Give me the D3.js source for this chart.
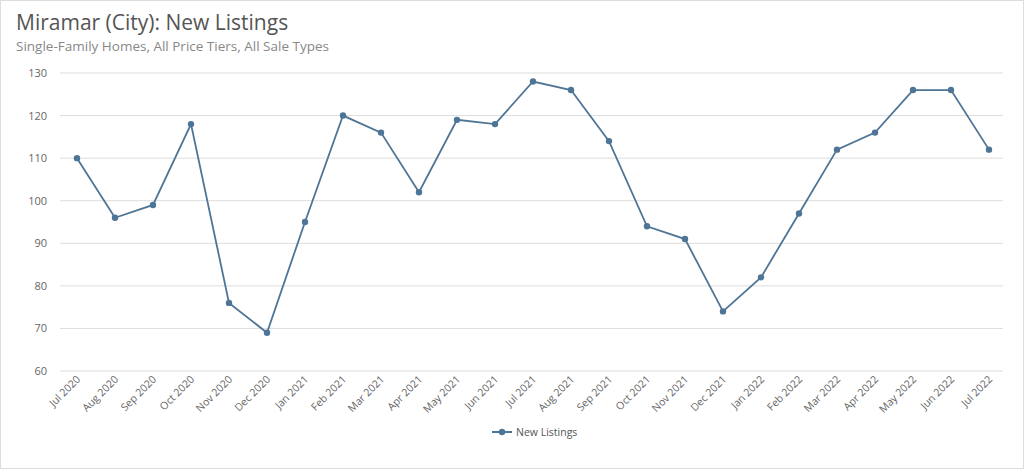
<!DOCTYPE html><html><head><meta charset="utf-8"><script src="https://cdn.jsdelivr.net/npm/d3@7"></script>
<style>body{margin:0;background:#fff}svg{font-family:"Open Sans",sans-serif}</style></head><body><svg id="c" width="1024" height="469"></svg>
<script>
const months=["Jul 2020","Aug 2020","Sep 2020","Oct 2020","Nov 2020","Dec 2020","Jan 2021","Feb 2021","Mar 2021","Apr 2021","May 2021","Jun 2021","Jul 2021","Aug 2021","Sep 2021","Oct 2021","Nov 2021","Dec 2021","Jan 2022","Feb 2022","Mar 2022","Apr 2022","May 2022","Jun 2022","Jul 2022"];
const listings=[110,96,99,118,76,69,95,120,116,102,119,118,128,126,114,94,91,74,82,97,112,116,126,126,112];
const yTicks=[60,70,80,90,100,110,120,130];
const color="#4e7596";
const svg=d3.select("#c");
svg.append("rect").attr("x",0.5).attr("y",0.5).attr("width",1023).attr("height",468).attr("fill","none").attr("stroke","#ddd");
svg.append("text").attr("x",16).attr("y",30).attr("font-size",21).attr("fill","#555").text("Miramar (City): New Listings");
svg.append("text").attr("x",16).attr("y",51).attr("font-size",13.5).attr("fill","#888").text("Single-Family Homes, All Price Tiers, All Sale Types");
const x=d3.scalePoint().domain(months).range([77,989]);
const y=d3.scaleLinear().domain([60,130]).range([371,73]);
const g=svg.append("g");
yTicks.forEach(t=>{
 g.append("line").attr("x1",60).attr("x2",1003).attr("y1",y(t)).attr("y2",y(t)).attr("stroke","#ddd");
 g.append("text").attr("x",47).attr("y",y(t)+4).attr("text-anchor","end").attr("font-size",11).attr("fill","#666").text(t);
});
months.forEach(m=>{
 g.append("text").attr("transform",`translate(${x(m)+4},${380}) rotate(-45)`).attr("text-anchor","end").attr("font-size",10.5).attr("fill","#666").text(m);
});
g.append("path").datum(listings).attr("fill","none").attr("stroke",color).attr("stroke-width",1.8)
 .attr("d",d3.line().x((d,i)=>x(months[i])).y(d=>y(d)));
g.selectAll("circle").data(listings).join("circle").attr("cx",(d,i)=>x(months[i])).attr("cy",d=>y(d)).attr("r",3.2).attr("fill",color);
const lg=svg.append("g");
lg.append("line").attr("x1",492).attr("x2",512).attr("y1",432).attr("y2",432).attr("stroke",color).attr("stroke-width",2);
lg.append("circle").attr("cx",502).attr("cy",432).attr("r",3.2).attr("fill",color);
lg.append("text").attr("x",516).attr("y",436).attr("font-size",10.5).attr("fill","#555").text("New Listings");
</script></body></html>
